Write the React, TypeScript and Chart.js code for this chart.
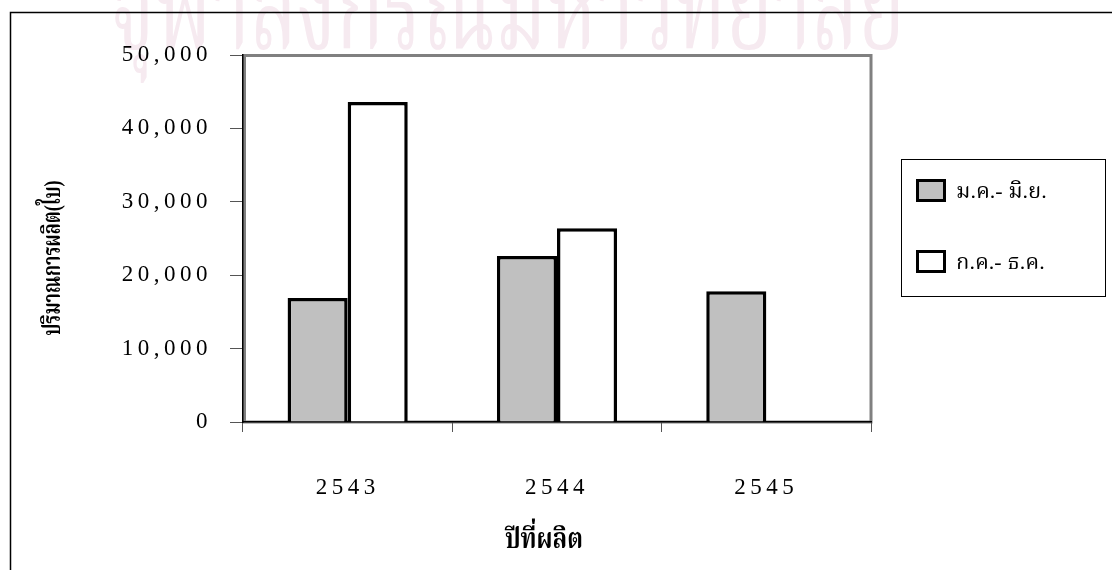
import React, { useEffect, useRef } from 'react';
import { Chart, registerables } from 'chart.js';

Chart.register(...registerables);

const categories = ['2543', '2544', '2545'];
const seriesLabels = ['ม.ค.- มิ.ย.', 'ก.ค.- ธ.ค.'];
const janJun = [16900, 22600, 17800];
const julDec: (number | null)[] = [43600, 26400, null];
const yMin = 0;
const yMax = 50000;
const yStep = 10000;
const yTitle = 'ปริมาณการผลิต(ใบ)';
const xTitle = 'ปีที่ผลิต';
const watermark = 'จุฬาลงกรณ์มหาวิทยาลัย';

const SERIF = '"Liberation Serif", "Noto Serif Thai", Norasi, Kinnari, "Times New Roman", serif';
const FILLS = ['#c0c0c0', '#ffffff'];

function fitText(ctx: CanvasRenderingContext2D, text: string, x: number, y: number, width: number, rot: number) {
  const w = ctx.measureText(text).width;
  ctx.save();
  ctx.translate(x, y);
  ctx.rotate(rot);
  ctx.scale(width / w, 1);
  ctx.fillText(text, 0, 0);
  ctx.restore();
}

const decor = {
  id: 'decor',
  beforeDraw(chart: any) {
    const ctx = chart.ctx as CanvasRenderingContext2D;
    const a = chart.chartArea;
    ctx.save();
    // watermark
    ctx.fillStyle = '#f6eaf0';
    ctx.font = `120px ${SERIF}`;
    ctx.textBaseline = 'alphabetic';
    ctx.textAlign = 'left';
    fitText(ctx, watermark, 110, 48, 795, 0);
    ctx.restore();

    ctx.save();
    // outer frame
    ctx.strokeStyle = '#000';
    ctx.lineWidth = 1.5;
    ctx.beginPath();
    ctx.moveTo(10.5, 570);
    ctx.lineTo(10.5, 12.5);
    ctx.lineTo(1112, 12.5);
    ctx.stroke();
    // plot border
    ctx.strokeStyle = '#808080';
    ctx.lineWidth = 3;
    ctx.strokeRect(a.left + 1.5, a.top + 0.5, a.right - a.left - 1.5, a.bottom - a.top - 0.5);
    ctx.restore();
    (ctx as any).letterSpacing = '4.5px';
  },
  afterDraw(chart: any) {
    const ctx = chart.ctx as CanvasRenderingContext2D;
    (ctx as any).letterSpacing = '0px';
    ctx.save();
    ctx.fillStyle = '#000';
    ctx.textAlign = 'center';
    ctx.textBaseline = 'middle';
    // y title
    ctx.font = `bold 24px ${SERIF}`;
    fitText(ctx, yTitle, 54, 258, 155, -Math.PI / 2);
    // x title
    ctx.font = `bold 28px ${SERIF}`;
    fitText(ctx, xTitle, 544, 541, 78, 0);

    // legend frame
    ctx.strokeStyle = '#000';
    ctx.lineWidth = 1;
    ctx.strokeRect(901.5, 159.5, 204, 137);
    const rows = [190, 261];
    chart.data.datasets.forEach((ds: any, i: number) => {
      const cy = rows[i];
      ctx.fillStyle = ds.backgroundColor;
      ctx.fillRect(917, cy - 10, 28, 21);
      ctx.strokeStyle = '#000';
      ctx.lineWidth = 3;
      ctx.strokeRect(917.5, cy - 9.5, 27, 20);
      ctx.fillStyle = '#000';
      ctx.font = `22px ${SERIF}`;
      ctx.textAlign = 'left';
      ctx.textBaseline = 'middle';
      ctx.fillText(ds.label, 956, cy + 2);
    });
    ctx.restore();
  },
};

export default function App() {
  const ref = useRef<HTMLCanvasElement | null>(null);
  useEffect(() => {
    if (!ref.current) return;
    const chart = new Chart(ref.current, {
      type: 'bar',
      data: {
        labels: categories,
        datasets: [
          {
            label: seriesLabels[0],
            data: janJun,
            backgroundColor: FILLS[0],
            borderColor: '#000',
            borderWidth: 3.5,
            borderSkipped: 'start',
            categoryPercentage: 0.574,
            barPercentage: 1,
          },
          {
            label: seriesLabels[1],
            data: julDec,
            backgroundColor: FILLS[1],
            borderColor: '#000',
            borderWidth: 3.5,
            borderSkipped: 'start',
            categoryPercentage: 0.574,
            barPercentage: 1,
          },
        ],
      },
      options: {
        responsive: false,
        animation: false,
        devicePixelRatio: 1,
        layout: { padding: { left: 0, top: 55, right: 241, bottom: 0 } },
        plugins: {
          legend: { display: false },
          tooltip: { enabled: false },
        },
        scales: {
          x: {
            grid: {
              display: true,
              drawOnChartArea: false,
              drawTicks: true,
              tickLength: 10,
              color: '#555',
              offset: true,
            },
            border: { display: true, color: '#000', width: 1.5 },
            ticks: {
              color: '#000',
              font: { family: SERIF, size: 23 },
              padding: 42,
              maxRotation: 0,
            },
            afterFit: (s: any) => {
              s.height = 148;
            },
          },
          y: {
            min: yMin,
            max: yMax,
            grid: {
              display: true,
              drawOnChartArea: false,
              drawTicks: true,
              tickLength: 13,
              color: '#555',
            },
            border: { display: true, color: '#000', width: 1.5 },
            ticks: {
              stepSize: yStep,
              color: '#000',
              font: { family: SERIF, size: 23 },
              padding: 18,
              callback: (v: any) => Number(v).toLocaleString('en-US'),
            },
            afterFit: (s: any) => {
              s.width = 243;
            },
          },
        },
      },
      plugins: [decor],
    });
    return () => chart.destroy();
  }, []);
  return (
    <div style={{ position: 'fixed', left: 0, top: 0, width: 1112, height: 570, background: '#fff' }}>
      <canvas ref={ref} width={1112} height={570} />
    </div>
  );
}
